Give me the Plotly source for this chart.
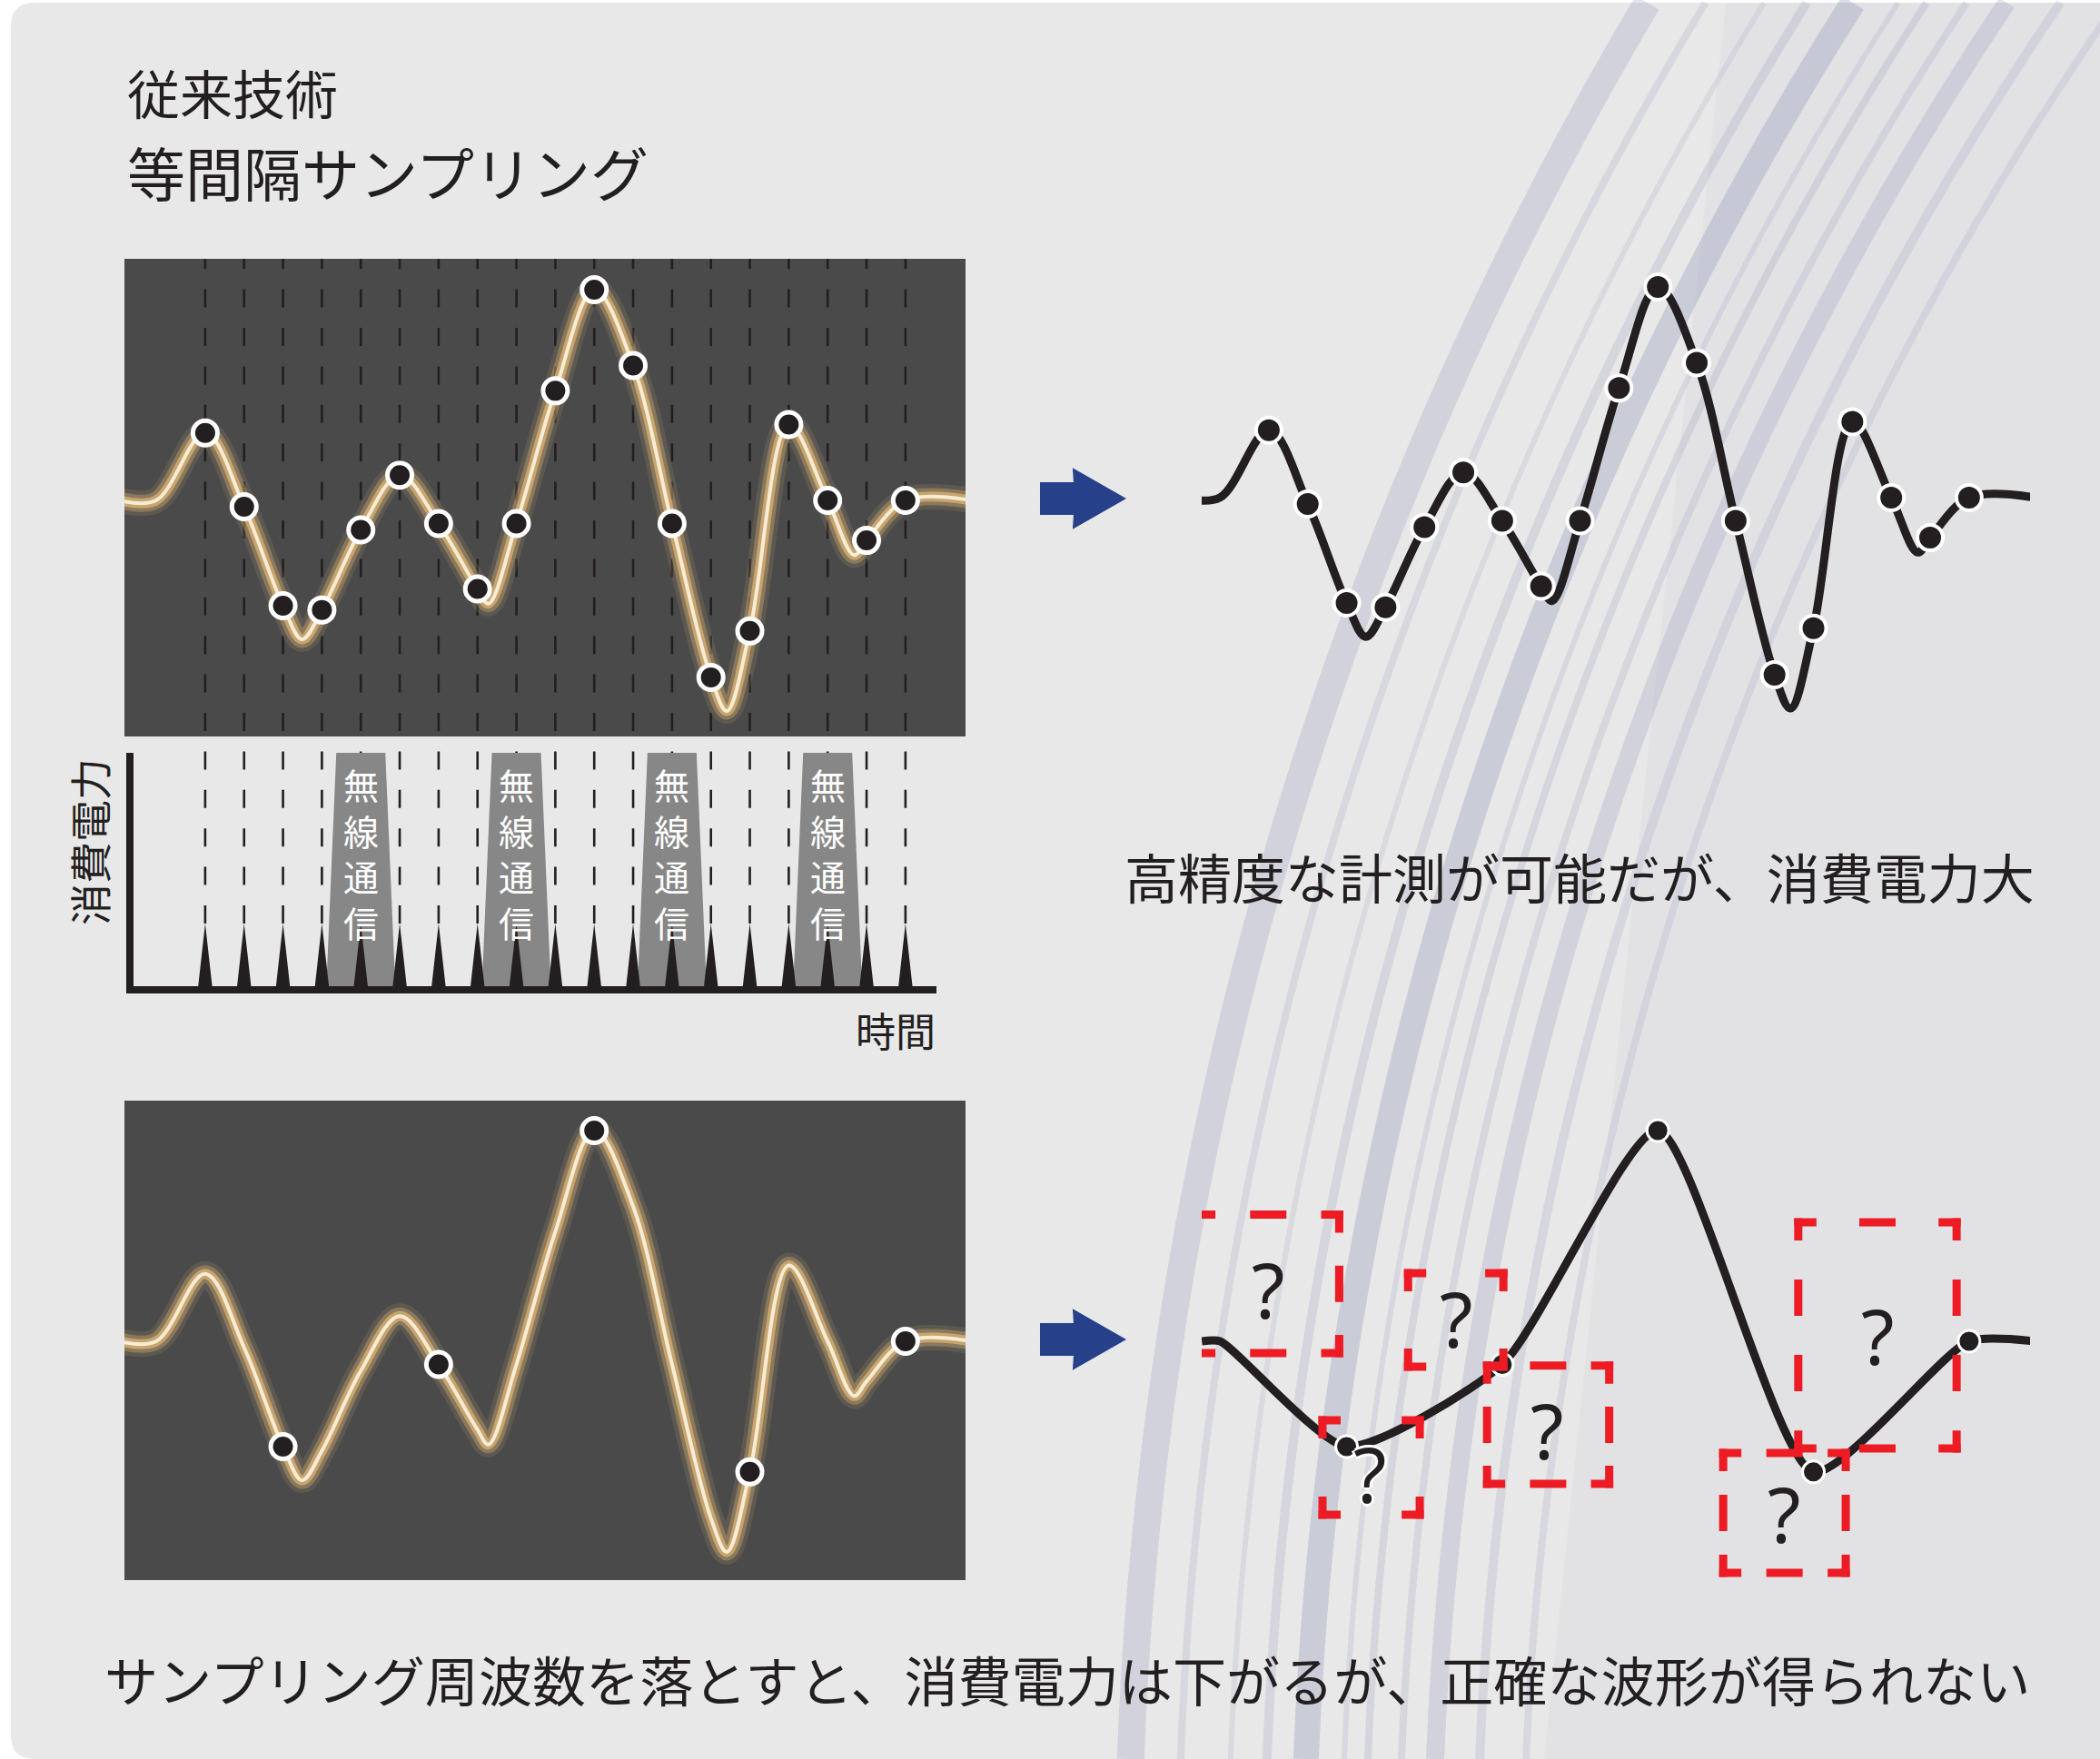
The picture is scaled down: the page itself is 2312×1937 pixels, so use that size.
import math
import plotly.graph_objects as go

W, H = 2312, 1937
INK = "#231f20"
FONT = "Noto Sans CJK JP"

# ---------------- data ----------------
# analogue signal (time in sampling periods, normalised amplitude): knots
signal_t = [-2.2, -1.26, 0, 1, 2, 2.49, 3, 4, 5, 6, 7, 7.28, 8, 9, 10, 11, 12, 13, 13.41, 14,
            15, 16, 16.68, 17, 18, 19.7]
signal_amp = [0.0, 0.0, 0.32, -0.03, -0.50, -0.66, -0.52, -0.14, 0.12, -0.11, -0.42, -0.49, -0.11,
              0.52, 1.00, 0.64, -0.11, -0.84, -1.00, -0.62, 0.36, 0.00, -0.26, -0.19, 0.00, 0.0]

# equal-interval samples (conventional high sampling rate)
sample_t = [0, 1, 2, 3, 4, 5, 6, 7, 8, 9, 10, 11, 12, 13, 14, 15, 16, 17, 18]
sample_amp = [0.32, -0.03, -0.50, -0.52, -0.14, 0.12, -0.11, -0.42, -0.11, 0.52, 1.00, 0.64,
              -0.11, -0.84, -0.62, 0.36, 0.00, -0.19, 0.00]

# reduced sampling rate
low_t = [2, 6, 10, 14, 18]
low_amp = [-0.50, -0.11, 1.00, -0.62, 0.00]
recon_t = [-1.72, -1.25, 2, 6, 10, 14, 18, 19.7]
recon_amp = [0.0, 0.0, -0.50, -0.11, 1.00, -0.62, 0.00, 0.00]

# power consumption: one spike per sample, radio bursts
spike_t = [0, 1, 2, 3, 4, 5, 6, 7, 8, 9, 10, 11, 12, 13, 14, 15, 16, 17, 18]
spike_power = 1.0
radio_t = [4, 8, 12, 16]
radio_power = 3.575
radio_label = "無線通信"

# regions where the waveform is unknown
unknown_t0 = [-1.84, 1.38, 3.58, 5.61, 11.68, 13.61]
unknown_t1 = [1.81, 3.88, 6.03, 8.75, 14.83, 17.68]
unknown_a0 = [-0.056, -0.823, -0.121, -0.677, -1.099, -0.509]
unknown_a1 = [0.601, -0.375, 0.323, -0.115, -0.530, 0.565]
qmark_t = [-0.02, 2.60, 4.81, 7.15, 13.24, 15.65]
qmark_amp = [0.246, -0.625, 0.108, -0.422, -0.815, 0.03]

title_lines = ["従来技術", "等間隔サンプリング"]
caption_high = "高精度な計測が可能だが、消費電力大"
caption_low = "サンプリング周波数を落とすと、消費電力は下がるが、正確な波形が得られない"
power_label = "消費電力"
time_label = "時間"

# ---------------- helpers ----------------
def fx(x):
    return x / W


def fy(y):
    return 1 - y / H


def P(x, y):
    return f"{x / W:.5f},{1 - y / H:.5f}"


def axis(domain, rng, anchor):
    return dict(domain=domain, range=rng, visible=False, fixedrange=True, anchor=anchor)


PX_T = 42.83   # pixels per sampling period
PX_A = 232.0   # pixels per amplitude unit

fig = go.Figure()
shapes = []
annotations = []

# ---- background frame ----
r = 26
frame = (f"M {P(12 + r, 3)} L {P(W, 3)} L {P(W, H)} L {P(12 + r, H)} "
         f"Q {P(12, H)} {P(12, H - r)} L {P(12, 3 + r)} Q {P(12, 3)} {P(12 + r, 3)} Z")
shapes.append(dict(type="path", path=frame, xref="paper", yref="paper",
                   fillcolor="#e8e8e8", line=dict(width=0), layer="below"))
# subtle darker tint on the right
shapes.append(dict(type="path", xref="paper", yref="paper", layer="below",
                   path=f"M {P(1900, 3)} L {P(W, 3)} L {P(W, H)} L {P(1700, H)} Z",
                   fillcolor="rgba(200,202,215,0.16)", line=dict(width=0)))

# ---- decorative arcs (concentric circles) ----
CX, CY = 5327.0, 2087.0
arcs = [(4085, 30, 0.28), (4030, 8, 0.20), (3975, 6, 0.18), (3935, 10, 0.25), (3892, 28, 0.36),
        (3850, 6, 0.20), (3824, 8, 0.25), (3787, 8, 0.22), (3750, 20, 0.28), (3701, 10, 0.22),
        (3650, 8, 0.20)]
for rad, wid, alp in arcs:
    pts = []
    for k in range(41):
        y = 3 + (H - 3) * k / 40
        dx = rad * rad - (CY - y) ** 2
        if dx <= 0:
            continue
        x = CX - math.sqrt(dx)
        pts.append(P(x, y))
    path = "M " + " L ".join(pts)
    shapes.append(dict(type="path", path=path, xref="paper", yref="paper", layer="below",
                       line=dict(color=f"rgba(150,156,188,{alp})", width=wid)))

# ---- dark panels ----
for (x0, y0, x1, y1) in [(137, 285, 1063, 811), (137, 1212, 1063, 1740)]:
    shapes.append(dict(type="rect", xref="paper", yref="paper", layer="below",
                       x0=fx(x0), x1=fx(x1), y0=fy(y1), y1=fy(y0),
                       fillcolor="#4a4a4a", line=dict(width=0)))

# ---- sampling guide dashes (top panel down to spike tips) ----
tip_y = 1090 - 73 * spike_power
for t in sample_t:
    shapes.append(dict(type="line", xref="x", yref="paper", layer="below",
                       x0=t, x1=t, y0=fy(tip_y), y1=fy(285),
                       line=dict(color=INK, width=2.6, dash="20px,22.4px")))

# ---- arrows ----
for dy in (0, 926):
    ar = (f"M {P(1146, 532 + dy)} L {P(1183, 532 + dy)} L {P(1182, 517 + dy)} L {P(1238, 549 + dy)} "
          f"L {P(1182, 581 + dy)} L {P(1183, 566 + dy)} L {P(1146, 566 + dy)} Z")
    shapes.append(dict(type="path", path=ar, xref="paper", yref="paper", layer="below",
                       fillcolor="#27408a", line=dict(color="#27408a", width=2)))

# ---- power axis L ----
shapes.append(dict(type="path", xref="x4 domain", yref="y4 domain", layer="above",
                   path="M 0,1 L 0,0 L 1,0", line=dict(color=INK, width=8)))

# ---- unknown-region boxes ----
def dashed_side(xa, ya, t0, a0, t1, a1):
    L = math.hypot((t1 - t0) * PX_T, (a1 - a0) * PX_A)
    n = max(1, round(L / 80))
    G = L / n - 40
    ext = 4.5
    if t0 == t1:
        s = 1 if a1 > a0 else -1
        a0e, a1e, t0e, t1e = a0 - s * ext / PX_A, a1 + s * ext / PX_A, t0, t1
    else:
        s = 1 if t1 > t0 else -1
        t0e, t1e, a0e, a1e = t0 - s * ext / PX_T, t1 + s * ext / PX_T, a0, a1
    return dict(type="line", xref=xa, yref=ya, layer="above", x0=t0e, x1=t1e, y0=a0e, y1=a1e,
                line=dict(color="#ed1c24", width=9, dash=f"24.5px,{G:.1f}px,15.5px,0px"))


for t0, t1, a0, a1 in zip(unknown_t0, unknown_t1, unknown_a0, unknown_a1):
    shapes.append(dashed_side("x5", "y5", t0, a1, t1, a1))
    shapes.append(dashed_side("x5", "y5", t0, a0, t1, a0))
    shapes.append(dashed_side("x5", "y5", t0, a1, t0, a0))
    shapes.append(dashed_side("x5", "y5", t1, a1, t1, a0))

# ---------------- traces ----------------
glow_layers = [(28, "rgba(201,166,112,0.16)"), (19, "rgba(201,166,112,0.42)"),
               (11, "#c8a46e"), (4, "#f7ecd6")]
for xa, ya in (("x", "y"), ("x3", "y3")):
    for w, c in glow_layers:
        fig.add_trace(go.Scatter(x=signal_t, y=signal_amp, xaxis=xa, yaxis=ya, mode="lines",
                                 line=dict(color=c, width=w, shape="spline", smoothing=1),
                                 hoverinfo="skip", showlegend=False))

dot = dict(color=INK, size=27, line=dict(color="white", width=5))
fig.add_trace(go.Scatter(x=sample_t, y=sample_amp, xaxis="x", yaxis="y", mode="markers",
                         marker=dot, showlegend=False))
fig.add_trace(go.Scatter(x=low_t, y=low_amp, xaxis="x3", yaxis="y3", mode="markers",
                         marker=dot, showlegend=False))

# top right: faithful reconstruction
fig.add_trace(go.Scatter(x=signal_t, y=signal_amp, xaxis="x2", yaxis="y2", mode="lines",
                         line=dict(color=INK, width=9, shape="spline", smoothing=1),
                         showlegend=False))
fig.add_trace(go.Scatter(x=sample_t, y=sample_amp, xaxis="x2", yaxis="y2", mode="markers",
                         marker=dict(color=INK, size=28, line=dict(color="white", width=4)),
                         showlegend=False))

# bottom right: coarse reconstruction
fig.add_trace(go.Scatter(x=recon_t, y=recon_amp, xaxis="x5", yaxis="y5", mode="lines",
                         line=dict(color=INK, width=9, shape="spline", smoothing=0.6),
                         showlegend=False))
fig.add_trace(go.Scatter(x=low_t, y=low_amp, xaxis="x5", yaxis="y5", mode="markers",
                         marker=dict(color=INK, size=24, line=dict(color="white", width=3)),
                         showlegend=False))

# power consumption
tx, ty = [], []
for t in radio_t:
    tx += [t - 0.89, t - 0.63, t + 0.63, t + 0.89, t - 0.89, None]
    ty += [0, radio_power, radio_power, 0, 0, None]
fig.add_trace(go.Scatter(x=tx, y=ty, xaxis="x4", yaxis="y4", mode="lines", fill="toself",
                         fillcolor="#878787", line=dict(width=0), hoverinfo="skip",
                         showlegend=False))
sx, sy = [], []
for t in spike_t:
    sx += [t - 0.19, t, t + 0.19, t - 0.19, None]
    sy += [0, spike_power, 0, 0, None]
fig.add_trace(go.Scatter(x=sx, y=sy, xaxis="x4", yaxis="y4", mode="lines", fill="toself",
                         fillcolor=INK, line=dict(width=0), hoverinfo="skip", showlegend=False))

# ---------------- annotations ----------------
def txt(text, x, y, size, xanchor="left", color=INK, **kw):
    d = dict(text=text, x=fx(x), y=fy(y), xref="paper", yref="paper", showarrow=False,
             xanchor=xanchor, yanchor="middle", font=dict(family=FONT, size=size, color=color))
    d.update(kw)
    annotations.append(d)


txt(title_lines[0], 138, 101, 58)
txt(title_lines[1], 138, 188, 64)
txt(caption_high, 1236, 965, 59)
txt(caption_low, 113, 1848, 59.1)
txt(power_label, 97, 927, 46, xanchor="center", textangle=-90)
txt(time_label, 1032, 1134, 44, xanchor="right")

# vertical label inside each radio burst: one stacked text block
vert = "<br>".join(radio_label)
for t in radio_t:
    annotations.append(dict(text=vert, x=t, y=2.07, xref="x4", yref="y4", showarrow=False,
                            xanchor="center", yanchor="middle",
                            font=dict(family=FONT, size=39, color="white")))

for i, (t, a) in enumerate(zip(qmark_t, qmark_amp)):
    f = dict(family="Noto Sans", size=84, color=INK)
    if i == 1:
        f["shadow"] = "3px 0 0 white, -3px 0 0 white, 0 3px 0 white, 0 -3px 0 white"
    annotations.append(dict(text="?", x=t, y=a, xref="x5", yref="y5", showarrow=False,
                            xanchor="center", yanchor="middle", font=f))

fig.update_layout(
    width=W, height=H, margin=dict(l=0, r=0, t=0, b=0),
    paper_bgcolor="white", plot_bgcolor="rgba(0,0,0,0)",
    showlegend=False, shapes=shapes, annotations=annotations,
    xaxis=axis([fx(137), fx(1063)], [-2.0757, 19.544], "y"),
    yaxis=axis([fy(811), fy(285)], [-1.1207, 1.1466], "x"),
    xaxis2=axis([fx(1323), fx(2235)], [-1.7254, 19.568], "y2"),
    yaxis2=axis([fy(850), fy(250)], [-1.3017, 1.2845], "x2"),
    xaxis3=axis([fx(137), fx(1063)], [-2.0757, 19.544], "y3"),
    yaxis3=axis([fy(1740), fy(1212)], [-1.1336, 1.1422], "x3"),
    xaxis4=axis([fx(143), fx(1031)], [-1.9356, 18.797], "y4"),
    yaxis4=axis([fy(1090), fy(829)], [0, 3.5753], "x4"),
    xaxis5=axis([fx(1323), fx(2235)], [-1.7254, 19.568], "y5"),
    yaxis5=axis([fy(1790), fy(1180)], [-1.349, 1.280], "x5"),
)

fig.write_html("out.html", config={"displayModeBar": False},
               post_script="document.body.style.margin='0px';")
